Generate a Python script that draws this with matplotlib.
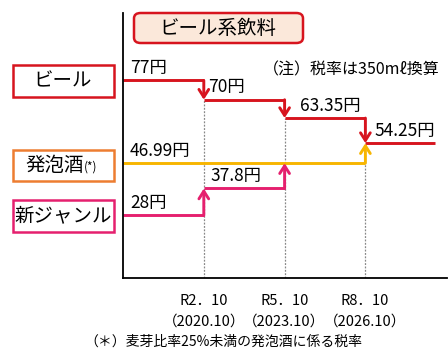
import matplotlib
matplotlib.use("Agg")
import matplotlib.pyplot as plt
from matplotlib.patches import Rectangle, FancyBboxPatch

plt.rcParams['font.family'] = ['Noto Sans CJK JP', 'DejaVu Sans']

# 改正時期
periods = ["R2．10", "R5．10", "R8．10"]
years = ["（2020.10）", "（2023.10）", "（2026.10）"]
# 税率 (円/350ml)
beer = [77, 70, 63.35, 54.25]
happo = [46.99, 46.99, 46.99, 54.25]
shin = [28, 37.8, 46.99]

RED = "#d7141e"
YEL = "#f7b500"
ORG = "#ed7d31"
PNK = "#e5206e"

W, H = 448, 359
fig = plt.figure(figsize=(W / 100, H / 100), dpi=100)
fx = lambda px: px / W
fy = lambda py: 1 - py / H

ax = fig.add_axes([fx(123), fy(278), fx(447) - fx(123), fy(13) - fy(278)])
ax.set_xlim(0, 4.01)
ax.set_ylim(5.3, 101.5)
for s in ["top", "right"]:
    ax.spines[s].set_visible(False)
for s in ["left", "bottom"]:
    ax.spines[s].set_linewidth(1.3)
ax.set_xticks([])
ax.set_yticks([])

# 改正時点の補助線
for i in range(len(periods)):
    ax.vlines(i + 1, 5.3, beer[i + 1], colors="#888888", linestyles=(0, (1.5, 1.2)), lw=0.9)

AST = "->,head_length=0.55,head_width=0.35"


def steps(vals, color, end=None):
    n = len(vals)
    for i, v in enumerate(vals):
        x1 = i + 1
        if i == n - 1 and end is not None:
            x1 = end
        if i == n - 1 and end is None:
            break
        ax.plot([i, x1], [v, v], color=color, lw=2.1, solid_capstyle="butt")
    for i in range(n - 1):
        if vals[i + 1] != vals[i]:
            ax.annotate("", xy=(i + 1, vals[i + 1]), xytext=(i + 1, vals[i]),
                        arrowprops=dict(arrowstyle=AST, color=color, lw=2.1,
                                        shrinkA=0, shrinkB=0))


# 発泡酒: 0..3 で横線、3 で上向き
ax.plot([0, 3], [happo[0], happo[0]], color=YEL, lw=2.1, solid_capstyle="butt")
ax.annotate("", xy=(3, happo[3]), xytext=(3, happo[2]),
            arrowprops=dict(arrowstyle=AST, color=YEL, lw=2.1, shrinkA=0, shrinkB=0))
steps(shin, PNK)
steps(beer, RED, end=3.86)


def yen(v):
    return ("%g" % v) + "円"


FS = 12.5
lab_off = [0.09, 1.05, 2.19, 3.11]
for i, v in enumerate(beer):
    ax.annotate(yen(v), (lab_off[i], v), xytext=(0, 2.5), textcoords="offset points",
                fontsize=FS, va="bottom", ha="left")
ax.annotate(yen(happo[0]), (0.08, happo[0]), xytext=(0, 2.5), textcoords="offset points",
            fontsize=FS, va="bottom", ha="left")
for i, v in enumerate(shin[:2]):
    ax.annotate(yen(v), ([0.09, 1.08][i], v), xytext=(0, 2.5), textcoords="offset points",
                fontsize=FS, va="bottom", ha="left")

# 横軸ラベル
for i, (p, y) in enumerate(zip(periods, years)):
    xf = fx(123 + (i + 1) * 80.7)
    fig.text(xf, fy(301), p, ha="center", va="center", fontsize=10.5)
    fig.text(xf, fy(322), y, ha="center", va="center", fontsize=10.5)

fig.text(fx(223), fy(342), "（＊）麦芽比率25%未満の発泡酒に係る税率", ha="center", va="center", fontsize=10)
fig.text(fx(440), fy(70), "（注）税率は350mℓ換算", ha="right", va="center", fontsize=11.5)

# タイトル枠
fig.add_artist(FancyBboxPatch((fx(134), fy(43)), fx(303) - fx(134), fy(13) - fy(43),
                              boxstyle="round,pad=0,rounding_size=0.015",
                              transform=fig.transFigure, facecolor="#fbe8da",
                              edgecolor=RED, lw=1.8))
fig.text(fx(218), fy(28), "ビール系飲料", ha="center", va="center", fontsize=14)

# 区分ラベル枠
boxes = [("ビール", RED, 65, 97), ("発泡酒", ORG, 150, 181), ("新ジャンル", PNK, 200, 232)]
for name, col, y0, y1 in boxes:
    fig.add_artist(Rectangle((fx(13), fy(y1)), fx(114) - fx(13), fy(y0) - fy(y1),
                             transform=fig.transFigure, facecolor="white",
                             edgecolor=col, lw=1.8))
    yc = fy((y0 + y1) / 2)
    if name == "発泡酒":
        fig.text(fx(55), yc, name, ha="center", va="center", fontsize=14)
        fig.text(fx(84), yc - 0.004, "(*)", ha="left", va="center", fontsize=8.5)
    else:
        fig.text(fx(63), yc, name, ha="center", va="center", fontsize=14)

fig.savefig("out.png", dpi=100)
